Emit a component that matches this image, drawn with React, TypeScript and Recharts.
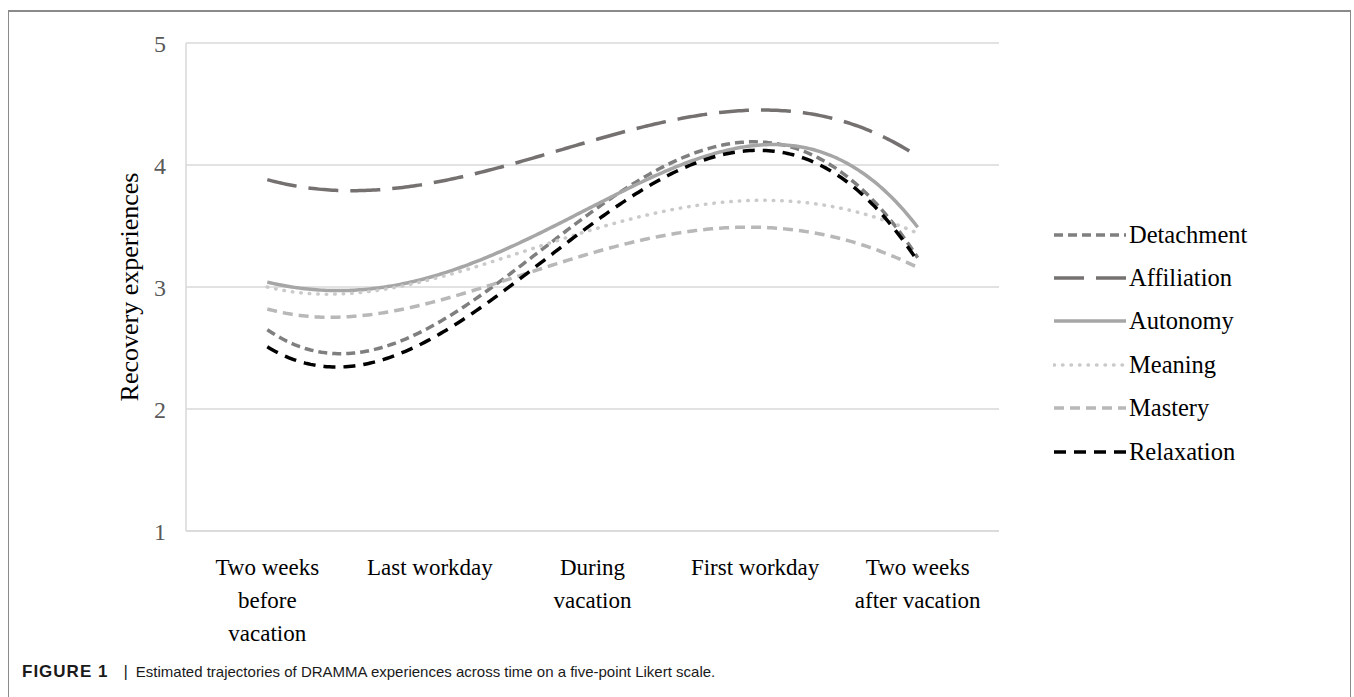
import React from "react";
import { LineChart, Line, XAxis, YAxis, CartesianGrid, Legend } from "recharts";

const categories = [
  "Two weeks\nbefore\nvacation",
  "Last workday",
  "During\nvacation",
  "First workday",
  "Two weeks\nafter vacation",
];
const detachment = [2.65, 2.67, 3.62, 4.19, 3.24];
const affiliation = [3.88, 3.85, 4.2, 4.45, 4.07];
const autonomy = [3.04, 3.08, 3.66, 4.16, 3.49];
const meaning = [3.0, 3.06, 3.47, 3.71, 3.44];
const mastery = [2.82, 2.87, 3.28, 3.49, 3.16];
const relaxation = [2.51, 2.57, 3.52, 4.12, 3.21];
const yTicks = [1, 2, 3, 4, 5];

const seriesNames = ["Detachment", "Affiliation", "Autonomy", "Meaning", "Mastery", "Relaxation"];
const seriesValues = [detachment, affiliation, autonomy, meaning, mastery, relaxation];

const seriesStyles = [
  { color: "#7f7f7f", dash: "9 5", cap: "butt" },
  { color: "#767171", dash: "30 12", cap: "butt" },
  { color: "#a6a6a6", dash: undefined, cap: "butt" },
  { color: "#cacaca", dash: "0.5 8", cap: "round" },
  { color: "#b8b8b8", dash: "10 6", cap: "butt" },
  { color: "#000000", dash: "12 8", cap: "butt" },
];

const data = categories.map((c, i) => {
  const row: Record<string, any> = { cat: c };
  seriesNames.forEach((n, s) => {
    row[n] = seriesValues[s][i];
  });
  return row;
});

// Smooth curve through the scaled points (polynomial-style smoothing like the source figure)
const smoothCurve = (context: any) => {
  let xs: number[] = [];
  let ys: number[] = [];
  return {
    areaStart() {},
    areaEnd() {},
    lineStart() {
      xs = [];
      ys = [];
    },
    point(x: number, y: number) {
      xs.push(+x);
      ys.push(+y);
    },
    lineEnd() {
      const n = xs.length;
      if (!n) return;
      const f = (x: number) => {
        let s = 0;
        for (let i = 0; i < n; i++) {
          let l = 1;
          for (let j = 0; j < n; j++) {
            if (j !== i) l *= (x - xs[j]) / (xs[i] - xs[j]);
          }
          s += ys[i] * l;
        }
        return s;
      };
      context.moveTo(xs[0], ys[0]);
      if (n === 1) return;
      const steps = 240;
      for (let k = 1; k <= steps; k++) {
        const x = xs[0] + ((xs[n - 1] - xs[0]) * k) / steps;
        context.lineTo(x, f(x));
      }
    },
  };
};

const SERIF = "'Liberation Serif', 'Times New Roman', serif";

const CatTick = (props: any) => {
  const { x, y, payload } = props;
  const lines = String(payload.value).split("\n");
  return (
    <text x={x} y={y} textAnchor="middle" fill="#000" fontSize={23} fontFamily={SERIF}>
      {lines.map((l, i) => (
        <tspan key={i} x={x} dy={i === 0 ? 44 : 33}>
          {l}
        </tspan>
      ))}
    </text>
  );
};

const LegendContent = () => (
  <div style={{ fontFamily: SERIF, fontSize: 24.5, color: "#000" }}>
    {seriesNames.map((n, i) => {
      const st = seriesStyles[i];
      return (
        <div key={n} style={{ display: "flex", alignItems: "center", height: 43.4 }}>
          <svg width={74} height={10} style={{ display: "block" }}>
            <line
              x1={1}
              y1={5}
              x2={73}
              y2={5}
              stroke={st.color}
              strokeWidth={3.5}
              strokeDasharray={st.dash}
              strokeLinecap={st.cap as any}
            />
          </svg>
          <span style={{ marginLeft: 2, lineHeight: "24px" }}>{n}</span>
        </div>
      );
    })}
  </div>
);

const YLabel = (props: any) => {
  const vb = props.viewBox || {};
  const cx = (vb.x ?? 126) + 3;
  const cy = (vb.y ?? 43) + (vb.height ?? 488) / 2;
  return (
    <text
      x={cx}
      y={cy}
      transform={`rotate(-90, ${cx}, ${cy})`}
      textAnchor="middle"
      dominantBaseline="central"
      fontSize={26}
      fontFamily={SERIF}
      fill="#000"
    >
      Recovery experiences
    </text>
  );
};

export default function App() {
  return (
    <div>
      <div
        style={{
          position: "absolute",
          left: 8,
          top: 10,
          width: 1343,
          height: 687,
          borderTop: "2px solid #8a8a8a",
          borderLeft: "1.5px solid #8a8a8a",
          borderRight: "1.5px solid #8a8a8a",
          boxSizing: "border-box",
        }}
      />
      <div style={{ position: "absolute", left: 0, top: 0, width: 1354, height: 697 }}>
        <LineChart
          width={1354}
          height={697}
          data={data}
          margin={{ top: 43, right: 355, bottom: 66, left: 126 }}
        >
          <CartesianGrid vertical={false} stroke="#d9d9d9" strokeWidth={1.5} />
          <XAxis
            dataKey="cat"
            interval={0}
            padding={{ left: 81.3, right: 81.3 }}
            axisLine={{ stroke: "#d9d9d9", strokeWidth: 1.5 }}
            tickLine={false}
            tickSize={0}
            tickMargin={0}
            height={100}
            tick={<CatTick />}
          />
          <YAxis
            domain={[1, 5]}
            ticks={yTicks}
            width={60}
            axisLine={{ stroke: "#d9d9d9", strokeWidth: 1.5 }}
            tickLine={false}
            tickSize={0}
            tickMargin={20}
            tick={{ fill: "#595959", fontSize: 24, fontFamily: SERIF }}
            label={<YLabel />}
          />
          {seriesNames.map((n, i) => (
            <Line
              key={n}
              dataKey={n}
              type={smoothCurve as any}
              stroke={seriesStyles[i].color}
              strokeWidth={3.5}
              strokeDasharray={seriesStyles[i].dash}
              strokeLinecap={seriesStyles[i].cap as any}
              dot={false}
              activeDot={false}
              isAnimationActive={false}
            />
          ))}
          <Legend
            layout="vertical"
            align="center"
            verticalAlign="middle"
            content={<LegendContent />}
            wrapperStyle={{ left: 1053, top: 213, width: 260, height: 270 }}
          />
        </LineChart>
      </div>
      <div
        style={{
          position: "absolute",
          left: 22,
          top: 662,
          fontFamily: "'Liberation Sans', Arial, sans-serif",
          fontSize: 15,
          color: "#1a1a1a",
          whiteSpace: "nowrap",
          lineHeight: "20px",
        }}
      >
        <b style={{ fontSize: 17, letterSpacing: 1 }}>FIGURE 1</b>
        <span style={{ margin: "0 8px 0 15px", color: "#222", fontSize: 17 }}>|</span>
        Estimated trajectories of DRAMMA experiences across time on a five-point Likert scale.
      </div>
    </div>
  );
}
